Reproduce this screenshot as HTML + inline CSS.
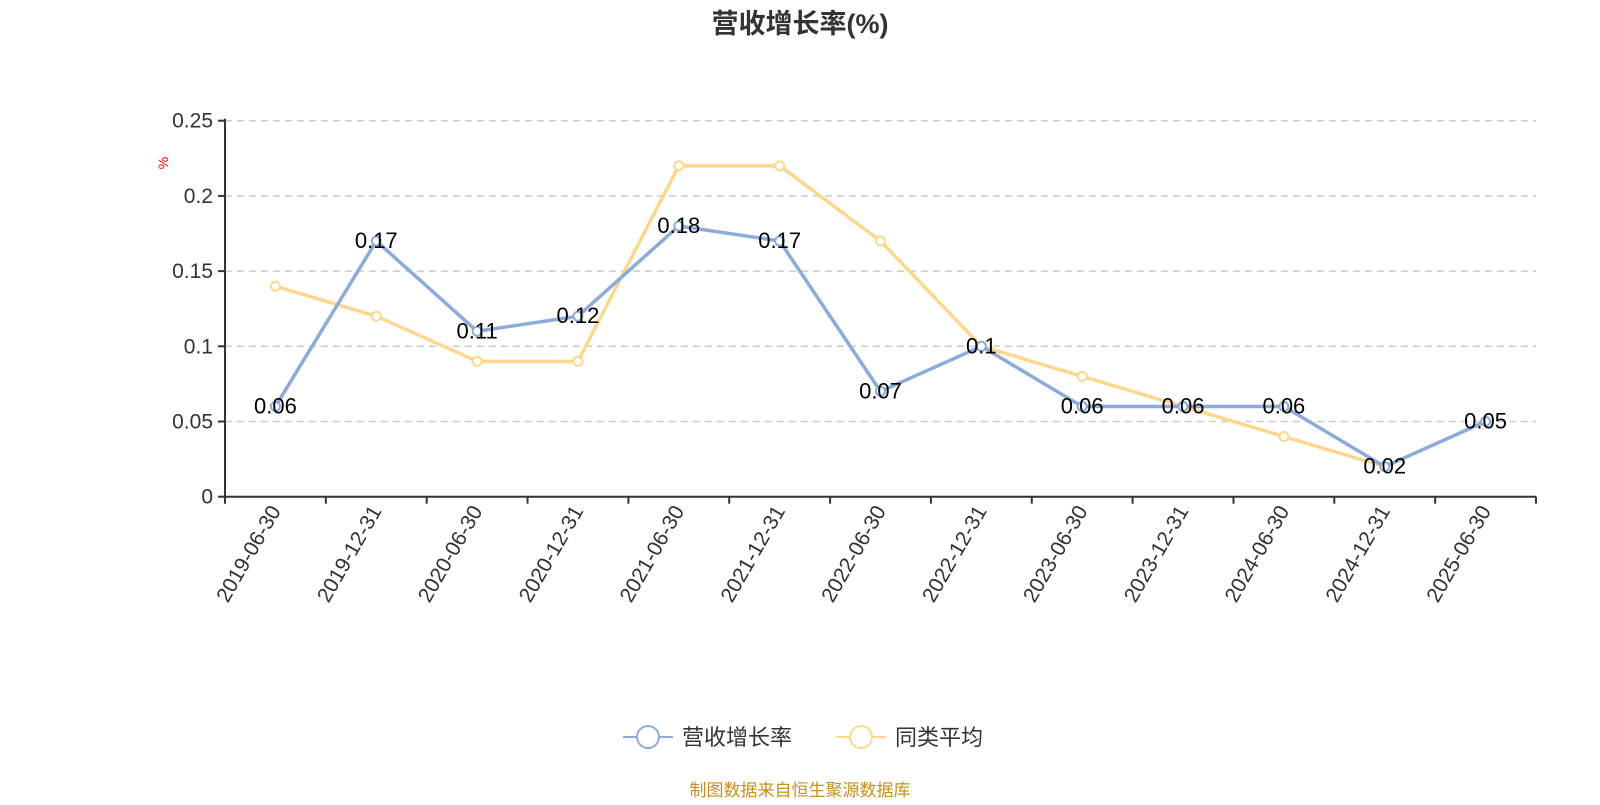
<!DOCTYPE html>
<html><head><meta charset="utf-8"><style>
body{margin:0;background:#fff;font-family:"Liberation Sans","Noto Sans CJK SC",sans-serif;}
</style></head><body>
<svg id="c" width="1600" height="800" xmlns="http://www.w3.org/2000/svg"></svg>
<script>
const categories=["2019-06-30","2019-12-31","2020-06-30","2020-12-31","2021-06-30","2021-12-31","2022-06-30","2022-12-31","2023-06-30","2023-12-31","2024-06-30","2024-12-31","2025-06-30"];
const revenueGrowth=[0.06,0.17,0.11,0.12,0.18,0.17,0.07,0.1,0.06,0.06,0.06,0.02,0.05];
const peerAverage=[0.14,0.12,0.09,0.09,0.22,0.22,0.17,0.1,0.08,0.06,0.04,0.02,0.05];
const yTicks=[0,0.05,0.1,0.15,0.2,0.25];
const yTickLabels=["0","0.05","0.1","0.15","0.2","0.25"];
const svg=document.getElementById('c');
const NS="http://www.w3.org/2000/svg";
const L=225,R=1536,T=120.7,B=496.7,yMax=0.25;
const bw=(R-L)/categories.length;
const xs=i=>L+bw*(i+0.5);
const ys=v=>B-(v/yMax)*(B-T);
function mk(tag,attrs,parent){const e=document.createElementNS(NS,tag);for(const k in attrs)e.setAttribute(k,attrs[k]);(parent||svg).appendChild(e);return e;}
let t=mk('text',{x:800,y:33,'text-anchor':'middle','font-size':27,'font-weight':'bold',fill:'#333'});
t.textContent='营收增长率(%)';


t=mk('text',{x:0,y:0,transform:'translate(168,163) rotate(-90)','text-anchor':'middle','font-size':14,fill:'red'});
t.textContent='%';


yTicks.forEach((v,i)=>{
  const y=ys(v);
  if(v>0){const g=mk('line',{x1:L,x2:R,y1:y,y2:y,stroke:'#ccc','stroke-width':1.5,'stroke-dasharray':'7,5'});
  
  }
  mk('line',{x1:L-7,x2:L,y1:y,y2:y,stroke:'#333','stroke-width':2});
  const tx=mk('text',{x:L-12,y:y+7,'text-anchor':'end','font-size':21,fill:'#333'});
  tx.textContent=yTickLabels[i];
  
  
});
let ax=mk('line',{x1:L,x2:L,y1:T-2,y2:B,stroke:'#333','stroke-width':2});


ax=mk('line',{x1:L,x2:R,y1:B,y2:B,stroke:'#333','stroke-width':2});


for(let i=0;i<=categories.length;i++){const x=L+bw*i;mk('line',{x1:x,x2:x,y1:B,y2:B+7,stroke:'#333','stroke-width':2});}
categories.forEach((c,i)=>{
  const x=xs(i);
  const tx=mk('text',{x:0,y:0,transform:`translate(${x+6},${B+14}) rotate(-60)`,'text-anchor':'end','font-size':21,fill:'#333'});
  tx.textContent=c;
  
  
});
function series(data,color,name,labels){
  const p=mk('polyline',{points:data.map((v,i)=>xs(i)+','+ys(v)).join(' '),fill:'none',stroke:color,'stroke-width':3.5,'stroke-linejoin':'round'});
  
  
  data.forEach((v,i)=>{
    const c=mk('circle',{cx:xs(i),cy:ys(v),r:4.5,fill:'#fff',stroke:color,'stroke-width':2});
    
    
  });
}
series(peerAverage,'#fcd88f','peer-average');
series(revenueGrowth,'#8dabda','revenue-growth');
revenueGrowth.forEach((v,i)=>{
  const tx=mk('text',{x:xs(i),y:ys(v)+7,'text-anchor':'middle','font-size':22,fill:'#000'});
  tx.textContent=String(v);
  
  
});
function legend(x,color,label,name){
  const g=mk('g',{});
  
  
  mk('line',{x1:x,x2:x+50,y1:737,y2:737,stroke:color,'stroke-width':2},g);
  mk('circle',{cx:x+25,cy:737,r:11,fill:'#fff',stroke:color,'stroke-width':2},g);
  const tx=mk('text',{x:x+59,y:745,'font-size':22,fill:'#333'},g);
  tx.textContent=label;
}
legend(623,'#8dabda','营收增长率','legend-revenue-growth');
legend(836,'#fcd88f','同类平均','legend-peer-average');
t=mk('text',{x:800,y:796,'text-anchor':'middle','font-size':17,fill:'#c8901a'});
t.textContent='制图数据来自恒生聚源数据库';


</script>
</body></html>
